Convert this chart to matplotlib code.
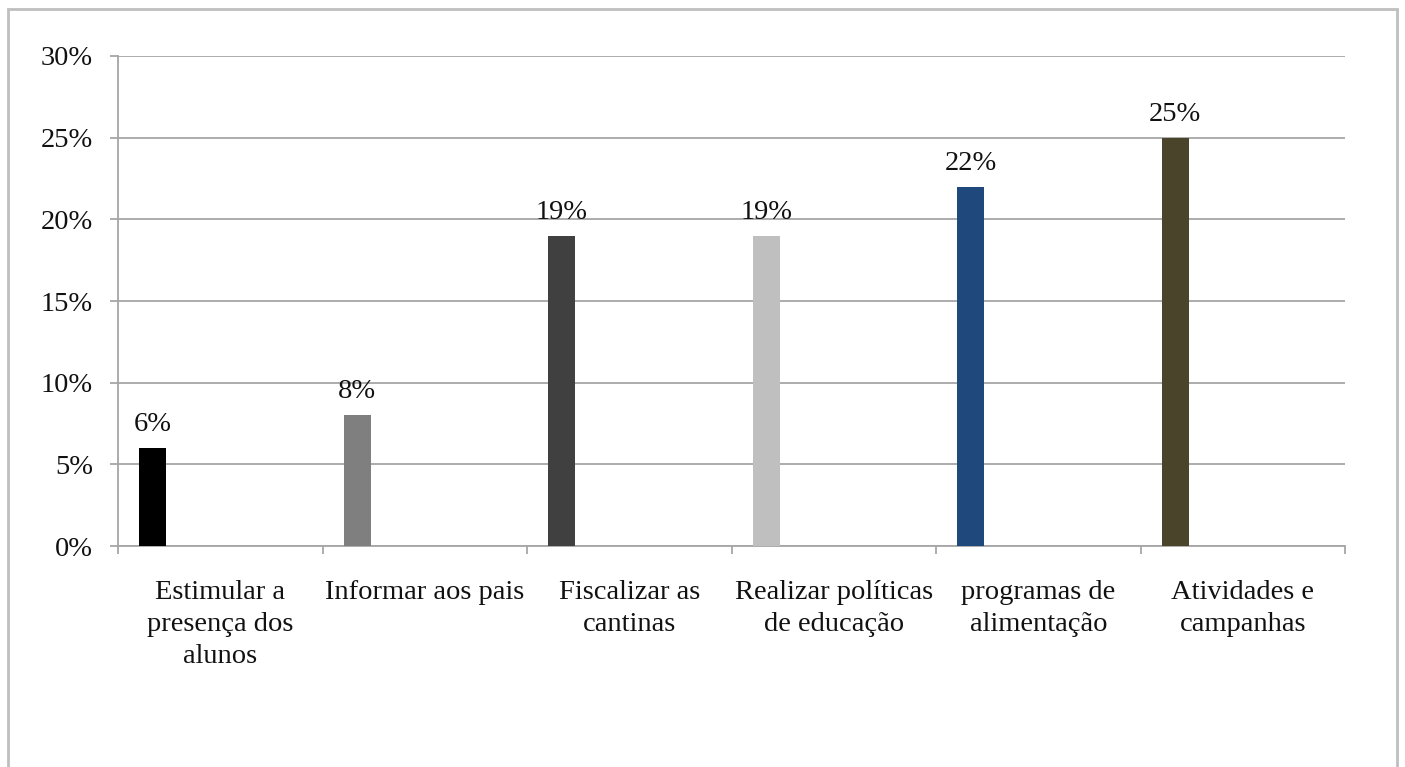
import matplotlib.pyplot as plt
from matplotlib.patches import Rectangle
from matplotlib.ticker import FuncFormatter, MultipleLocator
import numpy as np

plt.rcParams['font.family'] = ['Liberation Serif', 'DejaVu Serif']

# Dados do gráfico
categorias = ['Estimular a\npresença dos\nalunos', 'Informar aos pais', 'Fiscalizar as\ncantinas',
              'Realizar políticas\nde educação', 'programas de\nalimentação', 'Atividades e\ncampanhas']
valores = [6, 8, 19, 19, 22, 25]
cores = ['#000000', '#7f7f7f', '#404040', '#bfbfbf', '#1f497d', '#4a452a']

fig = plt.figure(figsize=(14.05, 7.67), dpi=100)
ax = fig.add_axes([0.084, 0.2881, 0.8733, 0.6389])

# moldura externa do gráfico
fig.patches.append(Rectangle((8 / 1405, -0.1), 1389 / 1405, 1.1 - 9 / 767, transform=fig.transFigure,
                             fill=False, edgecolor='#bfbfbf', linewidth=2))

x = np.arange(len(valores))
pos = x + 0.17  # barra deslocada para a esquerda dentro de cada categoria
ax.bar(pos, valores, width=0.132, color=cores, zorder=3)

for px, v in zip(pos, valores):
    ax.annotate(f'{v}%', (px, v), xytext=(0, 8), textcoords='offset points',
                ha='center', va='bottom', fontsize=20.5, color='#111111')

ax.set_xlim(0, len(valores))
ax.set_ylim(0, 30)
ax.yaxis.set_major_locator(MultipleLocator(5))
ax.yaxis.set_major_formatter(FuncFormatter(lambda v, p: f'{v:.0f}%'))
ax.grid(axis='y', color='#a6a6a6', linewidth=1.3, zorder=0)

ax.set_xticks(np.arange(len(valores) + 1))
ax.set_xticklabels([])
for i, c in enumerate(categorias):
    ax.text(i + 0.5, -0.07, c, transform=ax.get_xaxis_transform(), ha='center', va='top',
            fontsize=20.5, color='#111111', linespacing=1.35)

for s in ['top', 'right']:
    ax.spines[s].set_visible(False)
for s in ['left', 'bottom']:
    ax.spines[s].set_color('#a6a6a6')
    ax.spines[s].set_linewidth(1.3)
ax.tick_params(axis='both', color='#a6a6a6', width=1.3, length=6)
ax.tick_params(axis='y', labelsize=20.5, pad=12, labelcolor='#111111')

fig.savefig('out.png', dpi=100)
